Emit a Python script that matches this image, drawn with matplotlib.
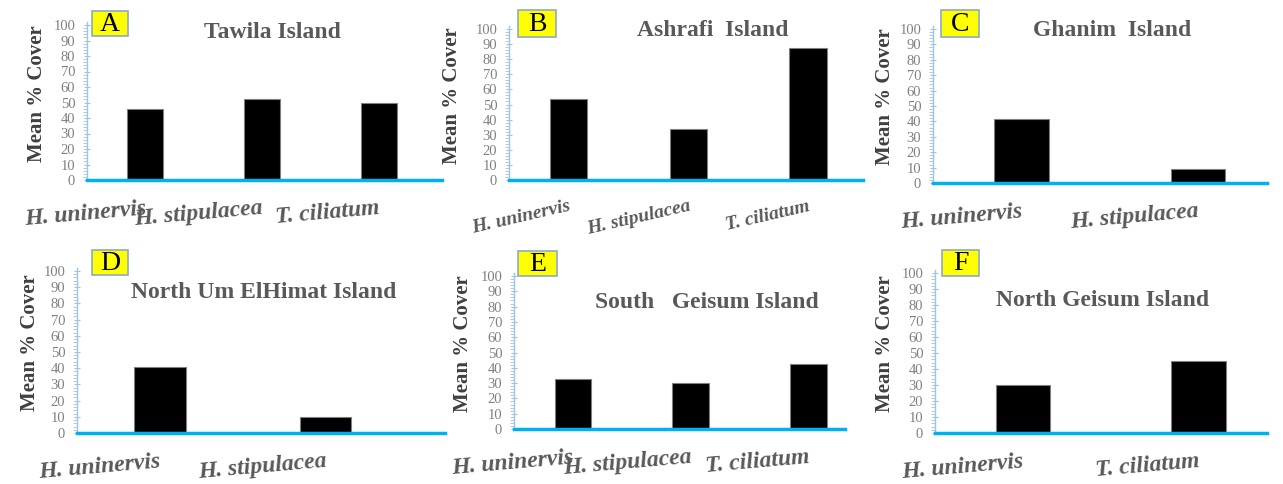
import matplotlib.pyplot as plt
from matplotlib.patches import Rectangle
from matplotlib.ticker import MultipleLocator

plt.rcParams['font.family'] = ['Liberation Serif', 'DejaVu Serif']

W, H = 1283, 484

# data
letters = ['A', 'B', 'C', 'D', 'E', 'F']
titles = ['Tawila Island', 'Ashrafi  Island', 'Ghanim  Island',
          'North Um ElHimat Island', 'South   Geisum Island', 'North Geisum Island']
species_a = ['H. uninervis', 'H. stipulacea', 'T. ciliatum']
cover_a = [45.9, 52.4, 49.4]
species_b = ['H. uninervis', 'H. stipulacea', 'T. ciliatum']
cover_b = [53.9, 33.8, 87.4]
species_c = ['H. uninervis', 'H. stipulacea']
cover_c = [41.7, 9.3]
species_d = ['H. uninervis', 'H. stipulacea']
cover_d = [41.0, 9.6]
species_e = ['H. uninervis', 'H. stipulacea', 'T. ciliatum']
cover_e = [32.8, 30.2, 42.8]
species_f = ['H. uninervis', 'T. ciliatum']
cover_f = [29.9, 44.8]

species = [species_a, species_b, species_c, species_d, species_e, species_f]
covers = [cover_a, cover_b, cover_c, cover_d, cover_e, cover_f]

# layout in pixels: axis left, axis right, y of 100, y of 0, xlim right
layout = [
    (87, 442, 25, 180, 2.54),
    (509, 863, 29, 180, 2.46),
    (933, 1267, 29, 183, 1.39),
    (77, 445, 271, 433, 1.72),
    (514, 845, 276, 429, 2.31),
    (935, 1267, 273, 433, 1.39),
]
title_pos = [(272, 32), (713, 31), (1112, 30), (264, 292), (707, 302), (1103, 301)]
box_pos = [(92, 11, 128, 36), (518, 10, 556, 37), (941, 10, 979, 37),
           (92, 250, 128, 275), (518, 251, 557, 276), (942, 250, 979, 276)]
ylabel_x = [37, 452, 885, 30, 463, 885]
rot = [5, 13, 5, 5, 5, 5]
lab_size = [17, 14, 17, 17, 17, 17]

fig = plt.figure(figsize=(W / 100, H / 100), dpi=100)

for i in range(6):
    x0, x1, ytop, ybot, xr = layout[i]
    ax = fig.add_axes([x0 / W, 1 - ybot / H, (x1 - x0) / W, (ybot - ytop) / H])
    ax.patch.set_alpha(0)
    pos = list(range(len(covers[i])))
    ax.bar(pos, covers[i], width=0.31, color='black', edgecolor='#7f7f7f', linewidth=0.8,
           zorder=3)
    ax.set_xlim(-0.5, xr)
    ax.set_ylim(0, 100)
    ax.set_yticks(range(0, 101, 10))
    ax.yaxis.set_minor_locator(MultipleLocator(2))
    for s in ['top', 'right']:
        ax.spines[s].set_visible(False)
    ax.spines['left'].set_color('#9dc3e6')
    ax.spines['left'].set_linewidth(1.0)
    ax.spines['left'].set_bounds(0, 102)
    ax.spines['bottom'].set_color('#00b0f0')
    ax.spines['bottom'].set_linewidth(2.5)
    ax.spines['bottom'].set_zorder(4)
    ax.tick_params(axis='y', which='major', direction='inout', length=5, width=0.8,
                   color='#9dc3e6', labelsize=10.5, labelcolor='#808080', pad=6)
    ax.tick_params(axis='y', which='minor', direction='out', length=3, width=0.6,
                   color='#9dc3e6')
    ax.set_xticks(pos)
    ax.set_xticklabels(species[i], rotation=rot[i], ha='right', rotation_mode='anchor',
                       fontsize=lab_size[i], fontweight='bold', fontstyle='italic',
                       color='#595959')
    ax.tick_params(axis='x', length=0, pad=13)
    ax.set_ylabel('Mean % Cover', fontsize=15, fontweight='bold', color='#404040',
                  va='center')
    ax.yaxis.set_label_coords((ylabel_x[i] - x0) / (x1 - x0), 0.56)

    tx, ty = title_pos[i]
    fig.text(tx / W, 1 - ty / H, titles[i], ha='center', va='center', fontsize=17,
             fontweight='bold', color='#595959')

    bx0, by0, bx1, by1 = box_pos[i]
    fig.patches.append(Rectangle((bx0 / W, 1 - by1 / H), (bx1 - bx0) / W, (by1 - by0) / H,
                                 transform=fig.transFigure, facecolor='#ffff00',
                                 edgecolor='#8fa9c8', linewidth=1.2, zorder=5))
    fig.text((bx0 + bx1) / 2 / W, 1 - (by0 + by1) / 2 / H - 0.002, letters[i],
             ha='center', va='center', fontsize=20, color='black', zorder=6)

fig.savefig('out.png', dpi=100, facecolor='white')
